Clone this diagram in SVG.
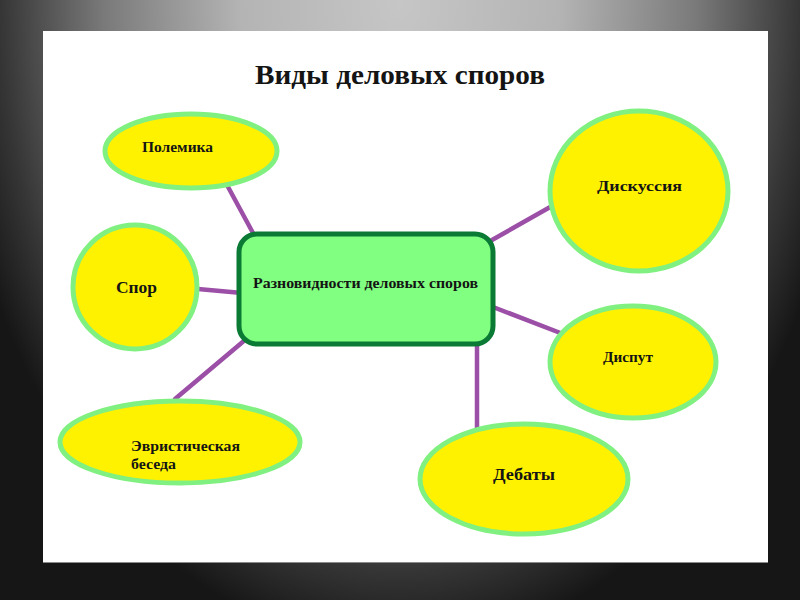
<svg xmlns="http://www.w3.org/2000/svg" width="800" height="600" viewBox="0 0 800 600">
<defs>
<radialGradient id="bg" gradientUnits="userSpaceOnUse" cx="400" cy="0" r="650" gradientTransform="translate(400 0) scale(0.7 1) translate(-400 0)">
<stop offset="0" stop-color="#c6c6c6"/>
<stop offset="0.35" stop-color="#b4b4b4"/>
<stop offset="0.65" stop-color="#7a7a7a"/>
<stop offset="0.88" stop-color="#353535"/>
<stop offset="1" stop-color="#161616"/>
</radialGradient>
<style>
.ell{fill:#fff200;stroke:#80f080;stroke-width:5}
.lbl{font-family:"Liberation Serif","Times New Roman",serif;font-weight:bold;fill:#141414}
.con line{stroke:#9c4fa6;stroke-width:4.5;stroke-linecap:round}
</style>
</defs>
<rect width="800" height="600" fill="#1e1e1e"/>
<rect width="800" height="600" fill="url(#bg)"/>
<rect x="43" y="31" width="725" height="531" fill="#ffffff"/>
<line x1="43" y1="562.5" x2="768" y2="562.5" stroke="#8a8a8a" stroke-width="1"/>
<text x="400" y="84" text-anchor="middle" class="lbl" font-size="28" textLength="290" lengthAdjust="spacingAndGlyphs">Виды деловых споров</text>
<g id="connectors" class="con">
<line x1="227" y1="185" x2="253" y2="233"/>
<line x1="198" y1="289" x2="242" y2="293"/>
<line x1="175" y1="399" x2="245" y2="340"/>
<line x1="492" y1="240" x2="552" y2="206"/>
<line x1="493" y1="307" x2="563" y2="334"/>
<line x1="477" y1="343" x2="477" y2="433"/>
</g>
<g id="center">
<rect x="239" y="234" width="254" height="110" rx="18" ry="18" fill="#80ff80" stroke="#0b7a35" stroke-width="5"/>
<text x="253" y="288" class="lbl" font-size="14" textLength="225" lengthAdjust="spacingAndGlyphs">Разновидности деловых споров</text>
</g>
<g id="polemika">
<ellipse class="ell" cx="191" cy="151" rx="86" ry="37"/>
<text x="142" y="152" class="lbl" font-size="14" textLength="71" lengthAdjust="spacingAndGlyphs">Полемика</text>
</g>
<g id="spor">
<ellipse class="ell" cx="135" cy="287" rx="62" ry="62"/>
<text x="116" y="293" class="lbl" font-size="17" textLength="41" lengthAdjust="spacingAndGlyphs">Спор</text>
</g>
<g id="evristicheskaya">
<ellipse class="ell" cx="180" cy="442" rx="120" ry="41"/>
<text class="lbl" font-size="14"><tspan x="131" y="451" textLength="109" lengthAdjust="spacingAndGlyphs">Эвристическая</tspan><tspan x="131" y="469" textLength="45" lengthAdjust="spacingAndGlyphs">беседа</tspan></text>
</g>
<g id="diskussiya">
<ellipse class="ell" cx="639" cy="191" rx="89" ry="80"/>
<text x="597" y="191" class="lbl" font-size="15" textLength="85" lengthAdjust="spacingAndGlyphs">Дискуссия</text>
</g>
<g id="disput">
<ellipse class="ell" cx="633" cy="362" rx="83" ry="56"/>
<text x="603" y="362" class="lbl" font-size="15" textLength="50" lengthAdjust="spacingAndGlyphs">Диспут</text>
</g>
<g id="debaty">
<ellipse class="ell" cx="524" cy="479" rx="104" ry="55"/>
<text x="493" y="480" class="lbl" font-size="16" textLength="62" lengthAdjust="spacingAndGlyphs">Дебаты</text>
</g>
</svg>
